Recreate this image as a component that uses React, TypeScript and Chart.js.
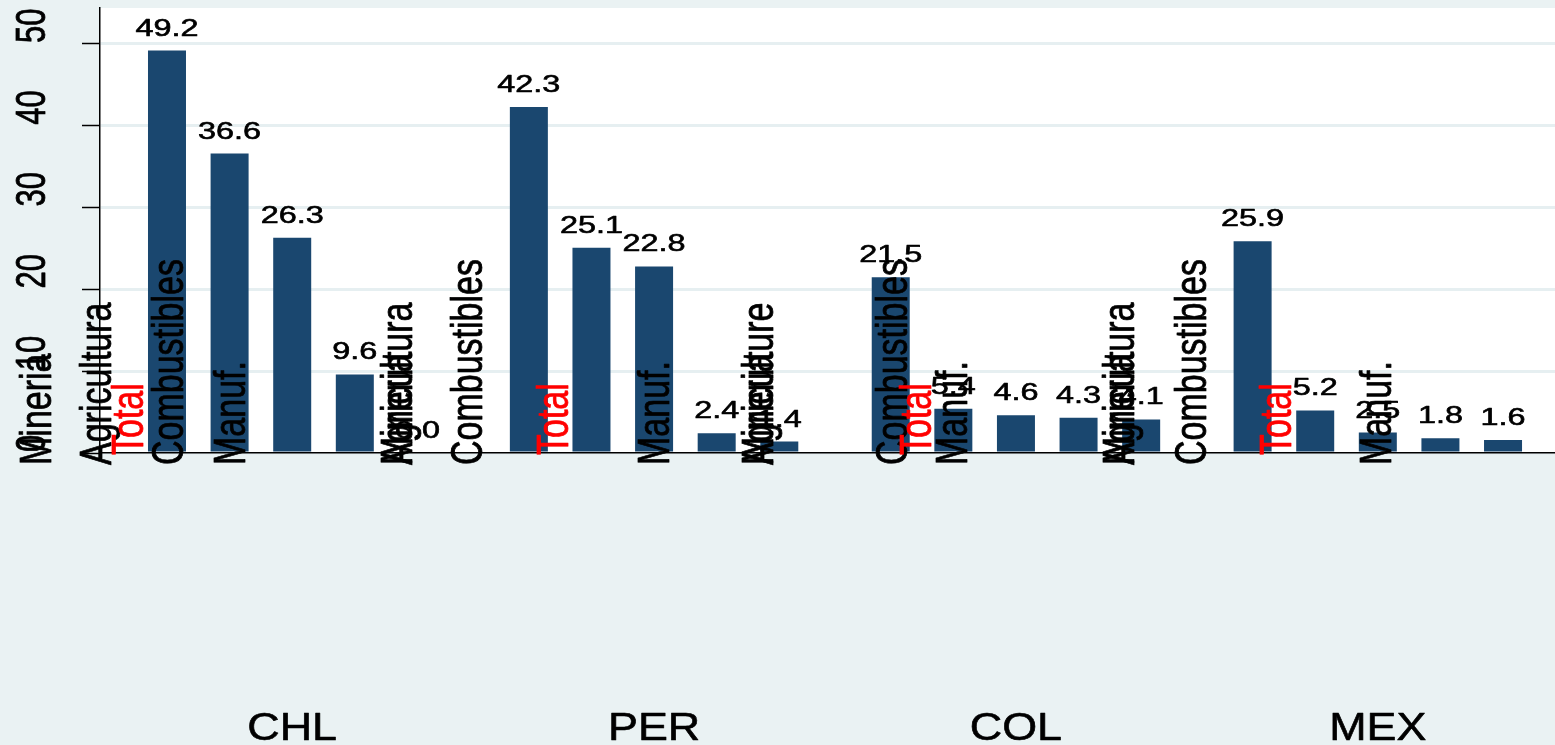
import React, { useEffect, useRef } from 'react';
import { Chart, registerables } from 'chart.js';

Chart.register(...registerables);

// ---- data ----
const countries = ['CHL', 'PER', 'COL', 'MEX'];
const chlValues = [49.2, 36.6, 26.3, 9.6, 0.0];
const perValues = [42.3, 25.1, 22.8, 2.4, 1.4];
const colValues = [21.5, 5.4, 4.6, 4.3, 4.1];
const mexValues = [25.9, 5.2, 2.5, 1.8, 1.6];
const yTicks = [0, 10, 20, 30, 40, 50];

// sector annotation texts (drawn vertically near the base line)
const sectorLabels = [
  'Mineria', 'Agricultura', 'Total', 'Combustibles', 'Manuf.',
  'Agricultura', 'Mineria', 'Combustibles', 'Total', 'Manuf.',
  'Agriculture', 'Mineria', 'Combustibles', 'Total', 'Manuf.',
  'Agricultura', 'Mineria', 'Combustibles', 'Total', 'Manuf.',
];
// anchors of those texts on the x axis (axis units)
const sectorLabelAnchors = [
  -1.11, -0.15, 0.36, 1.0, 1.99,
  4.65, 4.65, 5.77, 7.15, 8.76,
  10.42, 10.42, 12.56, 12.95, 13.52,
  16.19, 16.19, 17.34, 18.7, 20.29,
];

// ---- layout constants ----
const GROUP_START = 1;
const GROUP_STEP = 5.78;
const BAR_COLOR = '#1A476F';
const BG = '#EAF2F3';
const FONT = '"Liberation Sans", Arial, Helvetica, sans-serif';

const seriesByCountry = [chlValues, perValues, colValues, mexValues];

function drawText(
  ctx: CanvasRenderingContext2D,
  text: string,
  x: number,
  y: number,
  size: number,
  sx: number,
  align: CanvasTextAlign,
  color: string,
  rotate: boolean
) {
  ctx.save();
  ctx.translate(x, y);
  ctx.scale(sx, 1);
  if (rotate) ctx.rotate(-Math.PI / 2);
  ctx.font = `${size}px ${FONT}`;
  ctx.fillStyle = color;
  ctx.strokeStyle = color;
  ctx.lineWidth = 0.6;
  ctx.lineJoin = 'round';
  ctx.textAlign = align;
  ctx.textBaseline = 'alphabetic';
  ctx.fillText(text, 0, 0);
  ctx.strokeText(text, 0, 0);
  ctx.restore();
}

const stataPlugin = {
  id: 'stataLook',
  beforeDraw(chart: any) {
    const { ctx, chartArea, width, height } = chart;
    ctx.save();
    ctx.fillStyle = BG;
    ctx.fillRect(0, 0, width, height);
    ctx.fillStyle = '#FFFFFF';
    ctx.fillRect(chartArea.left, chartArea.top, chartArea.right - chartArea.left, chartArea.bottom - chartArea.top);
    ctx.restore();
  },
  afterDatasetsDraw(chart: any) {
    const ctx: CanvasRenderingContext2D = chart.ctx;
    const xs = chart.scales.x;
    const ys = chart.scales.y;
    const zero = ys.getPixelForValue(0);

    // value labels
    const meta = chart.getDatasetMeta(0);
    const ds = chart.data.datasets[0].data as { x: number; y: number }[];
    meta.data.forEach((el: any, i: number) => {
      drawText(ctx, ds[i].y.toFixed(1), el.x, el.y - 15, 24, 1.35, 'center', '#000000', false);
    });

    // vertical sector texts
    sectorLabels.forEach((t, i) => {
      const px = xs.getPixelForValue(sectorLabelAnchors[i]);
      const isTotal = t === 'Total';
      drawText(ctx, t, px + 16, zero + (isTotal ? 2 : 12), 34, 1.3, 'left', isTotal ? '#FF0000' : '#000000', true);
    });

    // y tick labels (vertical)
    yTicks.forEach((v) => {
      const py = ys.getPixelForValue(v);
      drawText(ctx, String(v), 44.5, py - 1, 31, 1.35, 'left', '#000000', true);
    });

    // country group labels
    countries.forEach((c, g) => {
      const center = GROUP_START + g * GROUP_STEP + (seriesByCountry[g].length - 1) / 2;
      const px = xs.getPixelForValue(center);
      drawText(ctx, c, px, 740, 39, 1.15, 'center', '#000000', false);
    });
  },
};

export default function App() {
  const canvasRef = useRef<HTMLCanvasElement | null>(null);

  useEffect(() => {
    if (!canvasRef.current) return;
    const points: { x: number; y: number }[] = [];
    seriesByCountry.forEach((vals, g) => {
      vals.forEach((v, j) => {
        points.push({ x: GROUP_START + g * GROUP_STEP + j, y: v });
      });
    });

    const chart = new Chart(canvasRef.current, {
      type: 'bar',
      data: {
        datasets: [
          {
            data: points as any,
            backgroundColor: BAR_COLOR,
            borderWidth: 0,
            barPercentage: 0.607,
            categoryPercentage: 1,
          },
        ],
      },
      options: {
        animation: false,
        responsive: true,
        maintainAspectRatio: false,
        layout: { padding: { left: 0, right: 0, top: 8, bottom: 292 } },
        plugins: {
          legend: { display: false },
          tooltip: { enabled: false },
        },
        scales: {
          x: {
            type: 'linear',
            min: -0.07,
            max: 23.17,
            offset: false,
            grid: { display: false },
            ticks: { display: false },
            border: { display: true, color: '#000000', width: 1.5 },
            afterBuildTicks: (s: any) => {
              s.ticks = [];
            },
            afterFit: (s: any) => {
              s.height = 0;
            },
          },
          y: {
            type: 'linear',
            min: 0,
            max: 54.4,
            grid: {
              color: '#E6EFF1',
              lineWidth: 3,
              drawTicks: true,
              tickLength: 18,
              tickColor: '#000000',
              tickWidth: 1.5,
            },
            ticks: { display: false },
            border: { display: true, color: '#000000', width: 1.5 },
            afterBuildTicks: (s: any) => {
              s.ticks = yTicks.map((v) => ({ value: v }));
            },
            afterFit: (s: any) => {
              s.width = 100;
            },
          },
        },
      },
      plugins: [stataPlugin],
    });

    return () => {
      chart.destroy();
    };
  }, []);

  return (
    <div style={{ position: 'fixed', left: 0, top: 0, width: 1555, height: 745, background: BG }}>
      <canvas ref={canvasRef} />
    </div>
  );
}
